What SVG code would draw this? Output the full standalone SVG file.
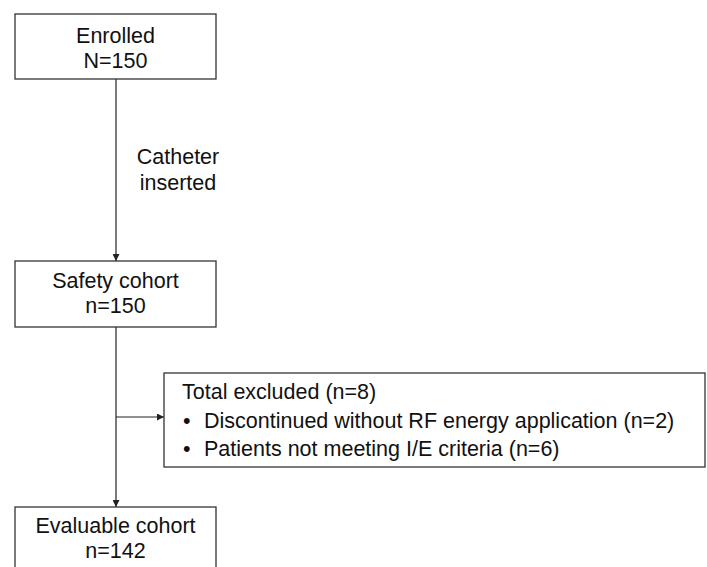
<svg xmlns="http://www.w3.org/2000/svg" width="707" height="567" viewBox="0 0 707 567">
<style>
.box{fill:#fff;stroke:#333;stroke-width:1.3}
.t{font-family:"Liberation Sans",Arial,sans-serif;font-size:21.5px;fill:#111}
.c{text-anchor:middle}
.ln{stroke:#222;stroke-width:1.2;fill:none}
</style>
<defs>
<marker id="ah" viewBox="0 0 10 10" refX="10" refY="5" markerWidth="7" markerHeight="7" markerUnits="userSpaceOnUse" orient="auto">
<path d="M0,0 L10,5 L0,10 z" fill="#222"/>
</marker>
</defs>
<rect width="707" height="567" fill="#fff"/>
<g id="connectors">
<line class="ln" x1="116" y1="79" x2="116" y2="261" marker-end="url(#ah)"/>
<line class="ln" x1="116" y1="327" x2="116" y2="507" marker-end="url(#ah)"/>
<line class="ln" x1="116" y1="417" x2="164" y2="417" marker-end="url(#ah)"/>
<text class="t c" x="178" y="164">Catheter</text>
<text class="t c" x="178" y="190">inserted</text>
</g>
<g id="enrolled">
<rect class="box" x="15" y="14" width="201" height="65"/>
<text class="t c" x="115.5" y="43">Enrolled</text>
<text class="t c" x="115.5" y="68">N=150</text>
</g>
<g id="safety">
<rect class="box" x="15" y="261" width="201" height="66"/>
<text class="t c" x="115.5" y="288">Safety cohort</text>
<text class="t c" x="115.5" y="313">n=150</text>
</g>
<g id="excluded">
<rect class="box" x="164" y="373" width="541" height="94"/>
<text class="t" x="182" y="399">Total excluded (n=8)</text>
<text class="t" x="183" y="428">•</text>
<text class="t" x="204" y="428">Discontinued without RF energy application (n=2)</text>
<text class="t" x="183" y="456">•</text>
<text class="t" x="204" y="456">Patients not meeting I/E criteria (n=6)</text>
</g>
<g id="evaluable">
<rect class="box" x="15" y="507" width="201" height="70"/>
<text class="t c" x="115.5" y="533">Evaluable cohort</text>
<text class="t c" x="115.5" y="558">n=142</text>
</g>
</svg>
